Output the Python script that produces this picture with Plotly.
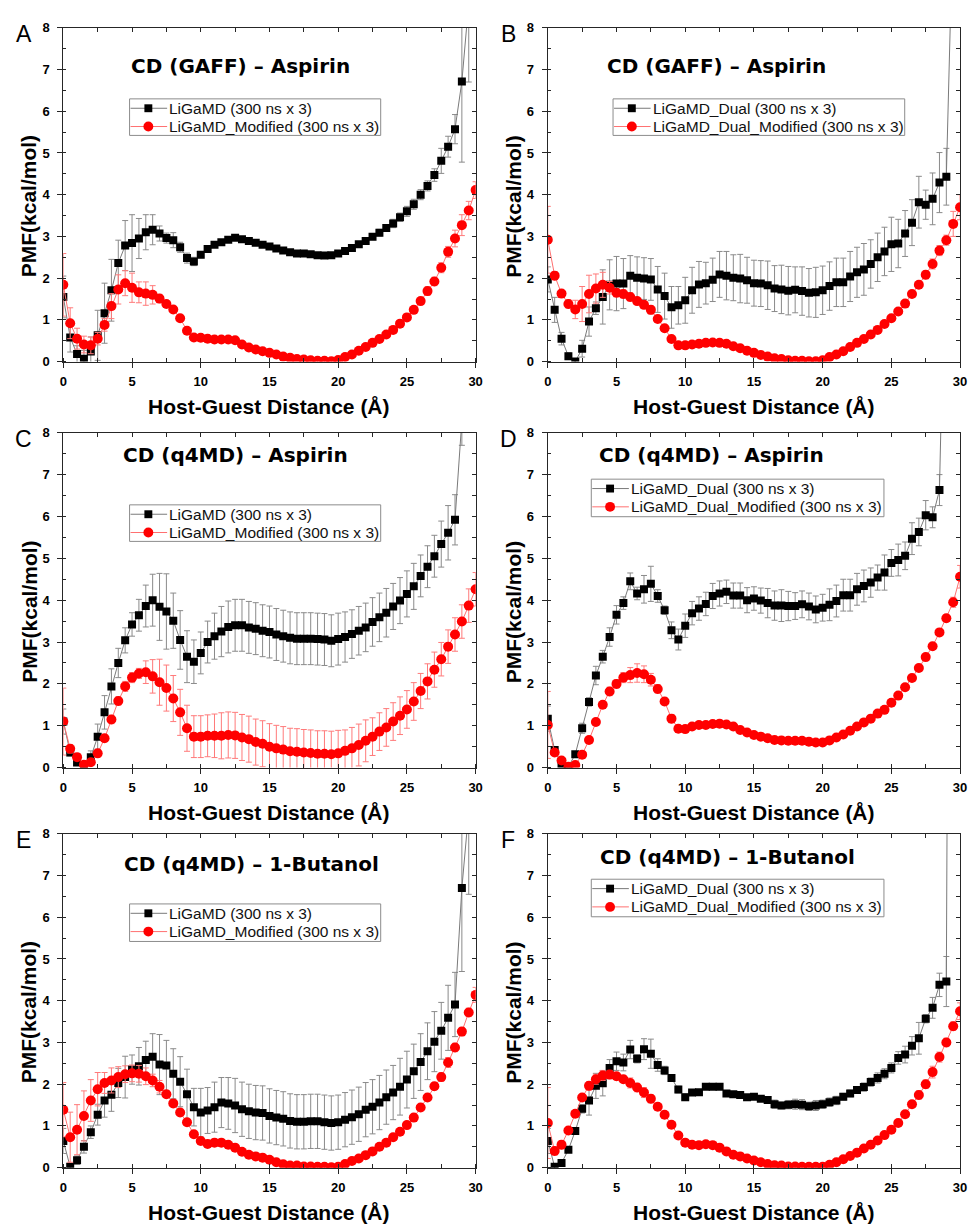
import plotly.graph_objects as go

W, H = 974, 1230

DIST = [0.0, 0.5, 1.0, 1.5, 2.0, 2.5, 3.0, 3.5, 4.0, 4.5, 5.0, 5.5, 6.0, 6.5, 7.0, 7.5,
        8.0, 8.5, 9.0, 9.5, 10.0, 10.5, 11.0, 11.5, 12.0, 12.5, 13.0, 13.5, 14.0, 14.5,
        15.0, 15.5, 16.0, 16.5, 17.0, 17.5, 18.0, 18.5, 19.0, 19.5, 20.0, 20.5, 21.0, 21.5,
        22.0, 22.5, 23.0, 23.5, 24.0, 24.5, 25.0, 25.5, 26.0, 26.5, 27.0, 27.5, 28.0, 28.5,
        29.0, 29.5, 30.0]

# ---------------- Panel A ----------------
A_black = [1.55, 0.58, 0.18, 0.07, 0.24, 0.63, 1.16, 1.71, 2.36, 2.78,
           2.84, 2.95, 3.10, 3.16, 3.07, 2.96, 2.91, 2.74, 2.48, 2.40,
           2.56, 2.70, 2.80, 2.86, 2.92, 2.97, 2.93, 2.89, 2.85, 2.80,
           2.76, 2.71, 2.66, 2.62, 2.59, 2.59, 2.57, 2.55, 2.54, 2.55,
           2.59, 2.65, 2.72, 2.81, 2.89, 2.99, 3.09, 3.20, 3.31, 3.46,
           3.60, 3.77, 4.00, 4.21, 4.47, 4.81, 5.15, 5.57, 6.71, 8.6]
A_black_err = [0.5, 0.35, 0.2, 0.2, 0.35, 0.6, 0.72, 0.74, 0.55, 0.6,
               0.68, 0.48, 0.42, 0.36, 0.18, 0.12, 0.18, 0.12, 0.12, 0.1,
               0.07, 0.06, 0.06, 0.05, 0.05, 0.05, 0.05, 0.05, 0.05, 0.05,
               0.05, 0.05, 0.05, 0.05, 0.05, 0.05, 0.05, 0.05, 0.05, 0.05,
               0.05, 0.05, 0.06, 0.06, 0.07, 0.07, 0.08, 0.08, 0.1, 0.1,
               0.12, 0.12, 0.12, 0.12, 0.15, 0.3, 0.25, 0.35, 1.93, 1.9]
A_red = [1.84, 0.92, 0.55, 0.41, 0.39, 0.55, 0.88, 1.33, 1.73, 1.88,
         1.77, 1.66, 1.63, 1.60, 1.51, 1.38, 1.25, 1.04, 0.74, 0.58,
         0.57, 0.55, 0.53, 0.53, 0.53, 0.51, 0.41, 0.34, 0.29, 0.25,
         0.21, 0.17, 0.12, 0.09, 0.06, 0.05, 0.03, 0.02, 0.02, 0.01,
         0.04, 0.11, 0.17, 0.26, 0.35, 0.45, 0.54, 0.65, 0.76, 0.91,
         1.06, 1.24, 1.45, 1.69, 1.92, 2.25, 2.63, 2.95, 3.27, 3.62,
         4.11]
A_red_err = [0.75, 0.37, 0.25, 0.2, 0.2, 0.15, 0.15, 0.3, 0.35, 0.3,
             0.35, 0.25, 0.28, 0.22, 0.1, 0.08, 0.06, 0.05, 0.04, 0.04,
             0.04, 0.04, 0.04, 0.04, 0.04, 0.04, 0.04, 0.04, 0.04, 0.04,
             0.03, 0.03, 0.03, 0.03, 0.03, 0.03, 0.03, 0.03, 0.03, 0.03,
             0.03, 0.04, 0.04, 0.04, 0.04, 0.05, 0.05, 0.05, 0.06, 0.06,
             0.07, 0.08, 0.08, 0.1, 0.1, 0.12, 0.13, 0.2, 0.25, 0.22,
             0.2]

# ---------------- Panel B ----------------
B_black = [1.97, 1.24, 0.55, 0.13, 0.0, 0.31, 0.96, 1.28, 1.55, 1.84,
           1.87, 1.87, 2.06, 2.01, 1.99, 1.97, 1.73, 1.57, 1.30, 1.35,
           1.47, 1.71, 1.85, 1.88, 1.96, 2.09, 2.06, 2.01, 1.99, 1.95,
           1.88, 1.87, 1.83, 1.75, 1.73, 1.70, 1.72, 1.69, 1.65, 1.66,
           1.71, 1.81, 1.90, 1.90, 2.04, 2.14, 2.21, 2.34, 2.50, 2.64,
           2.81, 2.83, 3.07, 3.33, 3.82, 3.76, 3.90, 4.29, 4.43, 10.8]
B_black_err = [0.3, 0.3, 0.15, 0.08, 0.05, 0.2, 0.35, 0.15, 0.65, 0.6,
               0.65, 0.6, 0.48, 0.5, 0.5, 0.5, 0.55, 0.55, 0.5, 0.45,
               0.55, 0.55, 0.55, 0.5, 0.52, 0.55, 0.58, 0.55, 0.58, 0.55,
               0.55, 0.55, 0.58, 0.55, 0.58, 0.58, 0.55, 0.58, 0.58, 0.6,
               0.58, 0.58, 0.58, 0.58, 0.6, 0.6, 0.62, 0.58, 0.58, 0.58,
               0.65, 0.58, 0.55, 0.55, 0.62, 0.35, 0.62, 0.72, 0.68, 0.7]
B_red = [2.92, 2.06, 1.63, 1.38, 1.25, 1.38, 1.62, 1.75, 1.84, 1.77,
         1.65, 1.62, 1.55, 1.45, 1.36, 1.24, 1.02, 0.80, 0.54, 0.39,
         0.39, 0.41, 0.43, 0.45, 0.46, 0.45, 0.43, 0.37, 0.32, 0.26,
         0.21, 0.16, 0.12, 0.08, 0.06, 0.03, 0.02, 0.02, 0.01, 0.01,
         0.03, 0.11, 0.17, 0.25, 0.35, 0.45, 0.54, 0.65, 0.76, 0.90,
         1.04, 1.20, 1.39, 1.62, 1.84, 2.08, 2.34, 2.66, 2.91, 3.30,
         3.70]
B_red_err = [0.8, 0.1, 0.08, 0.1, 0.22, 0.42, 0.45, 0.35, 0.3, 0.15,
             0.1, 0.1, 0.1, 0.08, 0.08, 0.1, 0.06, 0.04, 0.04, 0.04,
             0.03, 0.03, 0.03, 0.03, 0.03, 0.03, 0.03, 0.03, 0.03, 0.03,
             0.03, 0.03, 0.03, 0.03, 0.03, 0.03, 0.03, 0.03, 0.03, 0.03,
             0.03, 0.03, 0.03, 0.03, 0.03, 0.03, 0.04, 0.04, 0.04, 0.04,
             0.05, 0.05, 0.05, 0.05, 0.06, 0.1, 0.12, 0.12, 0.12, 0.3,
             0.3]

# ---------------- Panel C ----------------
C_black = [1.10, 0.36, 0.12, 0.06, 0.25, 0.74, 1.32, 1.94, 2.50, 3.04,
           3.42, 3.64, 3.86, 4.00, 3.84, 3.73, 3.51, 3.05, 2.65, 2.53,
           2.74, 3.00, 3.14, 3.25, 3.36, 3.40, 3.40, 3.35, 3.32, 3.27,
           3.24, 3.18, 3.14, 3.10, 3.08, 3.08, 3.08, 3.07, 3.06, 3.03,
           3.07, 3.12, 3.19, 3.27, 3.35, 3.48, 3.59, 3.70, 3.85, 3.99,
           4.15, 4.33, 4.58, 4.80, 5.05, 5.34, 5.61, 5.92, 8.3]
C_black_err = [0.3, 0.08, 0.05, 0.05, 0.15, 0.3, 0.4, 0.42, 0.35, 0.3,
               0.28, 0.38, 0.5, 0.62, 0.8, 0.9, 0.66, 0.7, 0.62, 0.52,
               0.5, 0.5, 0.55, 0.6, 0.62, 0.62, 0.62, 0.62, 0.62, 0.62,
               0.62, 0.62, 0.62, 0.62, 0.62, 0.62, 0.62, 0.62, 0.62, 0.62,
               0.62, 0.6, 0.58, 0.58, 0.58, 0.58, 0.58, 0.58, 0.55, 0.55,
               0.55, 0.55, 0.5, 0.5, 0.5, 0.55, 0.65, 0.6, 0.6]
C_red = [1.10, 0.45, 0.25, 0.07, 0.13, 0.34, 0.70, 1.15, 1.59, 1.94,
         2.15, 2.25, 2.28, 2.18, 2.04, 1.90, 1.65, 1.32, 0.94, 0.74,
         0.74, 0.76, 0.76, 0.76, 0.78, 0.77, 0.72, 0.68, 0.61, 0.57,
         0.50, 0.46, 0.43, 0.39, 0.38, 0.36, 0.35, 0.33, 0.33, 0.32,
         0.34, 0.40, 0.46, 0.54, 0.64, 0.74, 0.86, 0.96, 1.10, 1.24,
         1.39, 1.58, 1.83, 2.06, 2.34, 2.59, 2.89, 3.18, 3.49, 3.87,
         4.26]
C_red_err = [0.8, 0.1, 0.06, 0.05, 0.06, 0.08, 0.08, 0.1, 0.1, 0.12,
             0.12, 0.12, 0.27, 0.4, 0.55, 0.55, 0.55, 0.55, 0.55, 0.5,
             0.5, 0.5, 0.52, 0.55, 0.55, 0.55, 0.55, 0.55, 0.55, 0.55,
             0.55, 0.55, 0.55, 0.55, 0.55, 0.55, 0.55, 0.55, 0.55, 0.55,
             0.55, 0.5, 0.5, 0.5, 0.5, 0.45, 0.45, 0.45, 0.45, 0.45,
             0.45, 0.45, 0.42, 0.42, 0.42, 0.4, 0.4, 0.4, 0.4, 0.4,
             0.4]

# ---------------- Panel D ----------------
D_black = [1.17, 0.42, 0.07, 0.02, 0.32, 0.94, 1.57, 2.20, 2.65, 3.12,
           3.65, 3.93, 4.45, 4.16, 4.26, 4.39, 4.10, 3.76, 3.28, 3.06,
           3.39, 3.69, 3.80, 3.91, 4.10, 4.16, 4.20, 4.11, 4.11, 4.00,
           4.04, 3.99, 3.93, 3.87, 3.87, 3.86, 3.86, 3.90, 3.85, 3.78,
           3.82, 3.89, 3.98, 4.12, 4.12, 4.26, 4.34, 4.42, 4.54, 4.66,
           4.89, 4.96, 5.06, 5.47, 5.63, 6.03, 5.98, 6.63, 14.0]
D_black_err = [0.3, 0.05, 0.05, 0.05, 0.05, 0.12, 0.1, 0.22, 0.15, 0.22,
               0.22, 0.15, 0.2, 0.15, 0.33, 0.42, 0.15, 0.1, 0.2, 0.25,
               0.28, 0.28, 0.28, 0.28, 0.3, 0.3, 0.28, 0.3, 0.3, 0.3,
               0.28, 0.3, 0.35, 0.35, 0.38, 0.35, 0.32, 0.32, 0.32, 0.32,
               0.32, 0.38, 0.38, 0.38, 0.38, 0.38, 0.38, 0.35, 0.3, 0.42,
               0.32, 0.38, 0.33, 0.38, 0.33, 0.35, 0.25, 0.37, 0.5]
D_red = [1.02, 0.36, 0.17, 0.02, 0.06, 0.31, 0.66, 1.09, 1.50, 1.82,
         2.00, 2.15, 2.21, 2.26, 2.23, 2.10, 1.88, 1.58, 1.17, 0.93,
         0.92, 0.98, 1.02, 1.02, 1.04, 1.05, 1.03, 0.98, 0.90, 0.84,
         0.78, 0.74, 0.70, 0.66, 0.65, 0.64, 0.64, 0.64, 0.62, 0.60,
         0.60, 0.65, 0.72, 0.79, 0.88, 0.98, 1.08, 1.17, 1.29, 1.38,
         1.55, 1.72, 1.92, 2.14, 2.38, 2.64, 2.90, 3.23, 3.57, 3.95,
         4.56]
D_red_err = [0.8, 0.06, 0.06, 0.05, 0.05, 0.05, 0.06, 0.08, 0.08, 0.1,
             0.1, 0.12, 0.18, 0.22, 0.2, 0.15, 0.1, 0.08, 0.1, 0.08,
             0.08, 0.06, 0.05, 0.05, 0.05, 0.05, 0.05, 0.05, 0.05, 0.05,
             0.05, 0.05, 0.05, 0.05, 0.05, 0.05, 0.05, 0.05, 0.05, 0.05,
             0.05, 0.05, 0.05, 0.05, 0.05, 0.05, 0.05, 0.05, 0.05, 0.05,
             0.05, 0.05, 0.05, 0.05, 0.06, 0.06, 0.06, 0.07, 0.08, 0.12,
             0.27]

# ---------------- Panel E ----------------
E_black = [0.64, 0.02, 0.18, 0.50, 0.85, 1.27, 1.61, 1.75, 2.03, 2.17,
           2.35, 2.43, 2.58, 2.66, 2.47, 2.45, 2.25, 2.06, 1.76, 1.45,
           1.32, 1.37, 1.45, 1.56, 1.54, 1.49, 1.40, 1.35, 1.32, 1.31,
           1.24, 1.20, 1.17, 1.12, 1.10, 1.10, 1.11, 1.11, 1.09, 1.07,
           1.09, 1.15, 1.21, 1.28, 1.39, 1.46, 1.56, 1.69, 1.80, 1.94,
           2.11, 2.31, 2.53, 2.79, 3.02, 3.28, 3.59, 3.91, 6.70, 8.55]
E_black_err = [0.3, 0.05, 0.1, 0.15, 0.15, 0.25, 0.4, 0.4, 0.35, 0.5,
               0.35, 0.45, 0.45, 0.55, 0.72, 0.6, 0.6, 0.6, 0.6, 0.45,
               0.58, 0.55, 0.6, 0.6, 0.62, 0.65, 0.65, 0.65, 0.65, 0.65,
               0.65, 0.65, 0.65, 0.65, 0.65, 0.65, 0.65, 0.65, 0.65, 0.65,
               0.65, 0.65, 0.65, 0.65, 0.65, 0.65, 0.65, 0.65, 0.65, 0.68,
               0.68, 0.65, 0.68, 0.68, 0.72, 0.68, 0.78, 0.77, 2.0, 2.0]
E_red = [1.39, 0.73, 0.91, 1.24, 1.61, 1.88, 2.03, 2.09, 2.17, 2.24,
         2.26, 2.25, 2.19, 2.09, 1.94, 1.76, 1.54, 1.32, 1.09, 0.80,
         0.64, 0.57, 0.60, 0.60, 0.55, 0.48, 0.38, 0.31, 0.27, 0.24,
         0.19, 0.13, 0.08, 0.05, 0.05, 0.03, 0.03, 0.02, 0.02, 0.01,
         0.02, 0.09, 0.16, 0.22, 0.30, 0.39, 0.50, 0.60, 0.73, 0.86,
         1.02, 1.20, 1.44, 1.68, 1.95, 2.17, 2.52, 2.88, 3.26, 3.72,
         4.14]
E_red_err = [0.65, 0.6, 0.6, 0.6, 0.5, 0.4, 0.25, 0.3, 0.25, 0.2,
             0.2, 0.2, 0.2, 0.15, 0.15, 0.08, 0.06, 0.06, 0.05, 0.05,
             0.08, 0.05, 0.05, 0.05, 0.05, 0.05, 0.05, 0.05, 0.05, 0.05,
             0.04, 0.04, 0.04, 0.04, 0.04, 0.04, 0.04, 0.04, 0.04, 0.04,
             0.04, 0.04, 0.04, 0.04, 0.04, 0.04, 0.04, 0.04, 0.04, 0.04,
             0.05, 0.05, 0.05, 0.06, 0.08, 0.1, 0.12, 0.1, 0.1, 0.1,
             0.18]

# ---------------- Panel F ----------------
F_black = [0.64, 0.02, 0.11, 0.43, 0.88, 1.41, 1.61, 1.96, 2.02, 2.39,
           2.55, 2.52, 2.83, 2.61, 2.84, 2.73, 2.46, 2.33, 2.15, 1.87,
           1.69, 1.80, 1.81, 1.94, 1.94, 1.94, 1.78, 1.76, 1.74, 1.69,
           1.70, 1.65, 1.62, 1.52, 1.49, 1.51, 1.52, 1.51, 1.47, 1.49,
           1.52, 1.57, 1.61, 1.70, 1.78, 1.86, 1.93, 2.05, 2.15, 2.25,
           2.39, 2.63, 2.71, 2.92, 3.10, 3.57, 3.83, 4.38, 4.46, 40.0]
F_black_err = [0.3, 0.05, 0.05, 0.05, 0.06, 0.1, 0.35, 0.3, 0.3, 0.2,
               0.22, 0.2, 0.22, 0.1, 0.25, 0.35, 0.15, 0.1, 0.08, 0.08,
               0.08, 0.06, 0.06, 0.06, 0.06, 0.06, 0.06, 0.06, 0.06, 0.06,
               0.06, 0.06, 0.06, 0.1, 0.08, 0.1, 0.12, 0.12, 0.1, 0.12,
               0.1, 0.1, 0.1, 0.08, 0.08, 0.08, 0.1, 0.1, 0.12, 0.12,
               0.12, 0.15, 0.2, 0.22, 0.38, 0.1, 0.25, 0.28, 0.6, 0.6]
F_red = [1.07, 0.40, 0.55, 0.89, 1.29, 1.68, 1.96, 2.12, 2.21, 2.23,
         2.19, 2.12, 2.03, 1.92, 1.80, 1.65, 1.46, 1.27, 1.03, 0.77,
         0.60, 0.55, 0.54, 0.56, 0.54, 0.48, 0.39, 0.31, 0.27, 0.22,
         0.17, 0.13, 0.09, 0.06, 0.05, 0.03, 0.03, 0.02, 0.02, 0.02,
         0.02, 0.07, 0.13, 0.20, 0.28, 0.36, 0.46, 0.55, 0.65, 0.78,
         0.91, 1.07, 1.28, 1.52, 1.74, 2.00, 2.29, 2.65, 3.00, 3.39,
         3.75]
F_red_err = [0.85, 0.1, 0.1, 0.06, 0.06, 0.06, 0.1, 0.12, 0.12, 0.1,
             0.08, 0.08, 0.12, 0.1, 0.12, 0.1, 0.05, 0.05, 0.05, 0.05,
             0.05, 0.05, 0.05, 0.05, 0.05, 0.05, 0.05, 0.05, 0.05, 0.05,
             0.04, 0.04, 0.04, 0.04, 0.04, 0.04, 0.04, 0.04, 0.04, 0.04,
             0.04, 0.04, 0.04, 0.04, 0.04, 0.04, 0.04, 0.04, 0.04, 0.04,
             0.05, 0.05, 0.06, 0.08, 0.1, 0.1, 0.14, 0.12, 0.1, 0.1,
             0.2]

PANEL_LETTERS = ["A", "B", "C", "D", "E", "F"]
PANEL_TITLES = ["CD (GAFF) \u2013 Aspirin", "CD (GAFF) \u2013 Aspirin",
                "CD (q4MD) \u2013 Aspirin", "CD (q4MD) \u2013 Aspirin",
                "CD (q4MD) \u2013 1-Butanol", "CD (q4MD) \u2013 1-Butanol"]
NAMES_SINGLE = ["LiGaMD (300 ns x 3)", "LiGaMD_Modified (300 ns x 3)"]
NAMES_DUAL = ["LiGaMD_Dual (300 ns x 3)", "LiGaMD_Dual_Modified (300 ns x 3)"]
X_TITLE = "Host-Guest Distance (\u00c5)"
Y_TITLE = "PMF(kcal/mol)"
X_TICKS = [0, 5, 10, 15, 20, 25, 30]
Y_TICKS = [0, 1, 2, 3, 4, 5, 6, 7, 8]

SERIES = [
    (A_black, A_black_err, A_red, A_red_err, NAMES_SINGLE),
    (B_black, B_black_err, B_red, B_red_err, NAMES_DUAL),
    (C_black, C_black_err, C_red, C_red_err, NAMES_SINGLE),
    (D_black, D_black_err, D_red, D_red_err, NAMES_DUAL),
    (E_black, E_black_err, E_red, E_red_err, NAMES_SINGLE),
    (F_black, F_black_err, F_red, F_red_err, NAMES_DUAL),
]

# ---------------- layout geometry (pixels) ----------------
COL_X = [(60, 477), (550, 967)]
ROW_Y = [(21, 359), (431, 770), (837, 1175)]
# legend boxes: (left, top, right, bottom)
LEGEND_BOX = [(127, 93, 381, 130), (616, 93, 911, 130), (127, 504, 381, 541),
              (594, 478, 890, 516), (127, 908, 381, 946), (594, 883, 890, 921)]
TITLE_POS = [(239, 60), (721, 60), (234, 454), (716, 454), (250, 868), (732, 860)]


def fx(px):
    return px / W


def fy(py):
    return 1 - py / H


SANS = "Liberation Sans"
fig = go.Figure()
annotations = []
shapes = []
layout = dict(width=W, height=H, autosize=False,
              margin=dict(l=0, r=0, t=0, b=0),
              paper_bgcolor="white", plot_bgcolor="white",
              showlegend=False)

BLACK_LINE = "#7a7a7a"
RED_LINE = "#ff7070"
BLACK_ERR = "#8a8a8a"
RED_ERR = "#ff7a7a"
AX = "#262626"

for i in range(6):
    n = i + 1
    r, c = divmod(i, 2)
    x0, x1 = COL_X[c]
    y0, y1 = ROW_Y[r]
    blk, blk_err, red, red_err, names = SERIES[i]
    xa = "x" if n == 1 else f"x{n}"
    ya = "y" if n == 1 else f"y{n}"

    fig.add_trace(go.Scatter(
        x=DIST[:len(blk)], y=blk, mode="lines+markers", name=names[0],
        xaxis=xa, yaxis=ya,
        line=dict(color=BLACK_LINE, width=1),
        marker=dict(symbol="square", size=8, color="black"),
        error_y=dict(type="data", array=blk_err, color=BLACK_ERR, thickness=1, width=3),
    ))
    fig.add_trace(go.Scatter(
        x=DIST[:len(red)], y=red, mode="lines+markers", name=names[1],
        xaxis=xa, yaxis=ya,
        line=dict(color=RED_LINE, width=1),
        marker=dict(symbol="circle", size=10, color="#ff0000"),
        error_y=dict(type="data", array=red_err, color=RED_ERR, thickness=1, width=3),
    ))

    # mirror axes (top/right) with inward ticks
    nt = n + 6
    fig.add_trace(go.Scatter(x=[None], y=[None], xaxis=f"x{nt}", yaxis=ya,
                             showlegend=False, hoverinfo="skip"))
    fig.add_trace(go.Scatter(x=[None], y=[None], xaxis=xa, yaxis=f"y{nt}",
                             showlegend=False, hoverinfo="skip"))

    xdom = [fx(x0), fx(x1)]
    ydom = [fy(y1), fy(y0)]
    axline = dict(showline=True, linecolor=AX, linewidth=1.2,
                  showgrid=False, zeroline=False)
    layout[f"xaxis{n}"] = dict(
        domain=xdom, anchor=ya, range=[0, 30], tickmode="array", tickvals=X_TICKS,
        ticks="outside", ticklen=5, tickwidth=1.2, tickcolor=AX,
        minor=dict(dtick=2.5, tick0=0, ticks="inside", ticklen=4, tickwidth=1.2,
                   tickcolor=AX, showgrid=False),
        tickfont=dict(family=SANS, size=13, color="black", weight="bold"),
        ticklabelstandoff=3, **axline)
    layout[f"yaxis{n}"] = dict(
        domain=ydom, anchor=xa, range=[0, 8], tickmode="array", tickvals=Y_TICKS,
        ticks="outside", ticklen=5, tickwidth=1.2, tickcolor=AX,
        minor=dict(dtick=0.5, tick0=0, ticks="inside", ticklen=3, tickwidth=1.2,
                   tickcolor=AX, showgrid=False),
        tickfont=dict(family=SANS, size=13, color="black", weight="bold"),
        ticklabelstandoff=5, **axline)
    layout[f"xaxis{nt}"] = dict(
        overlaying=xa, anchor=ya, side="top", range=[0, 30], dtick=2.5, tick0=0,
        ticks="inside", ticklen=4, tickwidth=1.2, tickcolor=AX,
        showticklabels=False, **axline)
    layout[f"yaxis{nt}"] = dict(
        overlaying=ya, anchor=xa, side="right", range=[0, 8], dtick=0.5, tick0=0,
        ticks="inside", ticklen=4, tickwidth=1.2, tickcolor=AX,
        showticklabels=False, **axline)

    # ---- legend box (Origin style: compact two-row key) ----
    bl, bt, br, bb = LEGEND_BOX[i]
    shapes.append(dict(type="rect", xref="paper", yref="paper", layer="above",
                       x0=fx(bl), x1=fx(br), y0=fy(bb), y1=fy(bt),
                       line=dict(color="#8c8c8c", width=1), fillcolor="white"))
    rows = [(bt + 9.5, BLACK_LINE, "square", names[0]),
            (bt + 28.0, RED_LINE, "circle", names[1])]
    for ry, lcol, sym, label in rows:
        shapes.append(dict(type="line", xref="paper", yref="paper", layer="above",
                           x0=fx(bl + 1), x1=fx(bl + 38), y0=fy(ry), y1=fy(ry),
                           line=dict(color=lcol, width=1)))
        cx = bl + 19
        if sym == "square":
            shapes.append(dict(type="rect", xref="paper", yref="paper", layer="above",
                               x0=fx(cx - 4), x1=fx(cx + 4), y0=fy(ry + 4), y1=fy(ry - 4),
                               line=dict(width=0), fillcolor="black"))
        else:
            shapes.append(dict(type="circle", xref="paper", yref="paper", layer="above",
                               x0=fx(cx - 5), x1=fx(cx + 5), y0=fy(ry + 5), y1=fy(ry - 5),
                               line=dict(width=0), fillcolor="#ff0000"))
        annotations.append(dict(text=label, x=fx(bl + 38), y=fy(ry),
                                xref="paper", yref="paper", xanchor="left", yanchor="middle",
                                showarrow=False,
                                font=dict(family=SANS, size=15.5, color="#111111")))

    # panel letter
    annotations.append(dict(text=PANEL_LETTERS[i], x=fx(x0 - 40), y=fy(y0 + 6),
                            xref="paper", yref="paper", xanchor="center", yanchor="middle",
                            showarrow=False, font=dict(family=SANS, size=23, color="black")))
    # panel title
    tx, ty = TITLE_POS[i]
    annotations.append(dict(text=PANEL_TITLES[i], x=fx(tx), y=fy(ty),
                            xref="paper", yref="paper", xanchor="center", yanchor="middle",
                            showarrow=False,
                            font=dict(family="DejaVu Sans", size=20, color="black", weight="bold")))
    # axis titles
    annotations.append(dict(text=X_TITLE, x=fx((x0 + x1) / 2), y=fy(y1 + 45),
                            xref="paper", yref="paper", xanchor="center", yanchor="middle",
                            showarrow=False,
                            font=dict(family=SANS, size=21, color="black", weight="bold")))
    annotations.append(dict(text=Y_TITLE, x=fx(x0 - 35), y=fy((y0 + y1) / 2 + 12),
                            xref="paper", yref="paper", xanchor="center", yanchor="middle",
                            textangle=-90, showarrow=False,
                            font=dict(family=SANS, size=21, color="black", weight="bold")))

layout["annotations"] = annotations
layout["shapes"] = shapes
fig.update_layout(**layout)
fig.write_html("out.html")
